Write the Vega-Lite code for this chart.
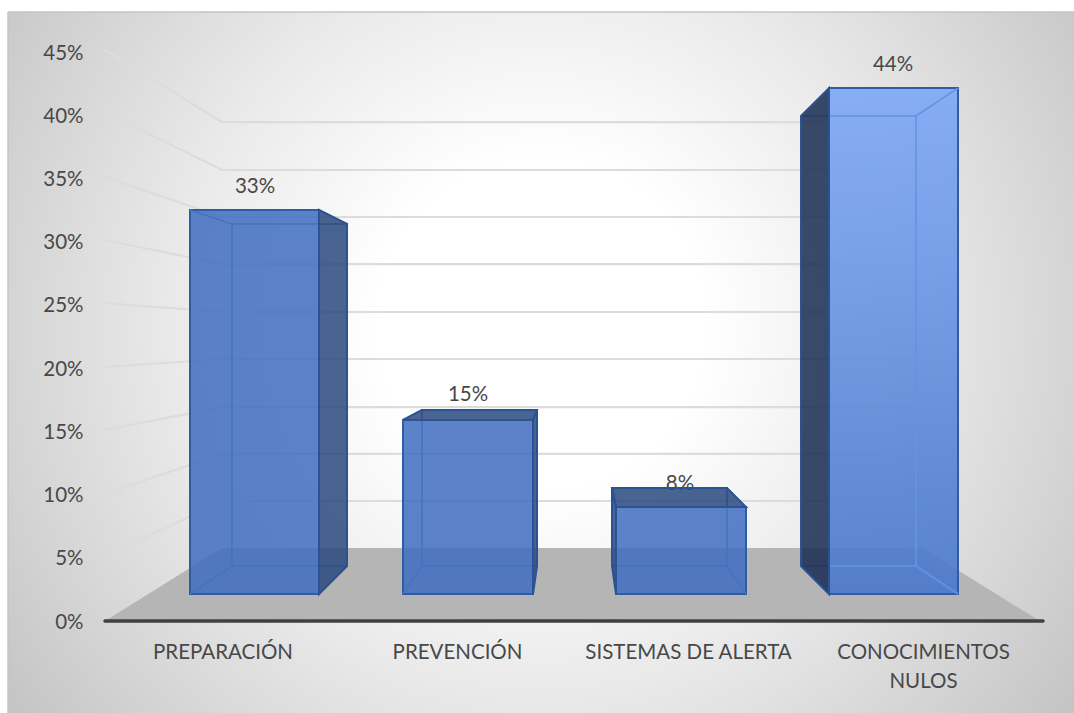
{
"$schema":"https://vega.github.io/schema/vega-lite/v6.json",
"width":1074,"height":713,
"autosize":{"type":"none"},
"padding":0,
"background":"white",
"config":{"view":{"stroke":null},"font":"Lato"},
"encoding":{
 "x":{"field":"x","type":"quantitative","scale":{"domain":[0,1074],"nice":false,"zero":false},
  "axis":{"title":null,"orient":"bottom","offset":-75,"grid":false,"domain":false,"ticks":false,"labelFont":"Lato","labelFontSize":20.5,"labelColor":"#484848","labelPadding":4,"labelLineHeight":29,"labelLimit":400,"labelOverlap":false,"labelFlush":false,"labelBound":false,"values":[222.5,457,688,923],"zindex":1,
  "labelExpr":"datum.value==222.5?'PREPARACIÓN':datum.value==457?'PREVENCIÓN':datum.value==688?'SISTEMAS DE ALERTA':['CONOCIMIENTOS','NULOS']"}},
 "y":{"field":"y","type":"quantitative","scale":{"domain":[-7.276,49.114],"nice":false,"zero":false},
  "axis":{"title":null,"orient":"left","offset":-84,"grid":false,"domain":false,"ticks":false,"labelFont":"Lato","labelFontSize":20.5,"labelColor":"#484848","labelPadding":1,"labelOffset":1,"labelOverlap":false,"labelFlush":false,"labelBound":false,"values":[0,5,10,15,20,25,30,35,40,45],"zindex":1,"labelExpr":"datum.value+'%'"}}
},
"layer":[
 {"data":{"values":[{"x":8,"x2":1074,"y":67.3,"y2":-17}]},
  "mark":{"type":"rect","clip":true,"fill":{"gradient":"radial","x1":0.5,"y1":0.52,"r1":0,"x2":0.5,"y2":0.52,"r2":0.7,"stops":[{"offset":0,"color":"#ffffff"},{"offset":0.22,"color":"#ffffff"},{"offset":0.5,"color":"#e9e9e9"},{"offset":0.72,"color":"#d4d4d4"},{"offset":1,"color":"#b8b8b8"}]}},
  "encoding":{"x2":{"field":"x2"},"y2":{"field":"y2"}}},
 {"data":{"values":[{"x":0,"x2":1074,"y":49.114,"y2":48.165},{"x":0,"x2":8,"y":49.114,"y2":-7.276}]},
  "mark":{"type":"rect","fill":"white"},
  "encoding":{"x2":{"field":"x2"},"y2":{"field":"y2"}}},
 {"data":{"values":[{"e":"top","x":8,"y":48.165},{"e":"top","x":1074,"y":48.165},{"e":"left","x":8,"y":48.165},{"e":"left","x":8,"y":-7.276}]},
  "mark":{"type":"line","stroke":"#c4c4c4","strokeWidth":1.5},
  "encoding":{"detail":{"field":"e"}}},
 {"data":{"values":[
  {"v":45,"x":105,"y":45.16},{"v":45,"x":222,"y":39.46},{"v":45,"x":922,"y":39.46},
  {"v":40,"x":105,"y":40.26},{"v":40,"x":222,"y":35.67},{"v":40,"x":922,"y":35.67},
  {"v":35,"x":105,"y":35.12},{"v":35,"x":222,"y":31.95},{"v":35,"x":922,"y":31.95},
  {"v":30,"x":105,"y":30.13},{"v":30,"x":222,"y":28.23},{"v":30,"x":922,"y":28.23},
  {"v":25,"x":105,"y":25.15},{"v":25,"x":222,"y":24.44},{"v":25,"x":922,"y":24.44},
  {"v":20,"x":105,"y":20.09},{"v":20,"x":222,"y":20.72},{"v":20,"x":922,"y":20.72},
  {"v":15,"x":105,"y":15.11},{"v":15,"x":222,"y":16.92},{"v":15,"x":922,"y":16.92},
  {"v":10,"x":105,"y":10.04},{"v":10,"x":222,"y":13.21},{"v":10,"x":922,"y":13.21},
  {"v":5,"x":105,"y":5.06},{"v":5,"x":222,"y":9.49},{"v":5,"x":922,"y":9.49}
  ]},
  "mark":{"type":"line","stroke":"#dcdcdc","strokeWidth":2.2},
  "encoding":{"detail":{"field":"v"}}},
 {"data":{"values":[{"x":222,"x2":922,"y":5.77},{"x":105,"x2":1040,"y":0}]},
  "mark":{"type":"area","orient":"horizontal","fill":"#b5b5b5"},
  "encoding":{"x2":{"field":"x2"}}},
 {"data":{"values":[{"x":105,"y":0},{"x":1043,"y":0}]},
  "mark":{"type":"line","stroke":"#404040","strokeWidth":3.5,"strokeCap":"round"},
  "encoding":{}},
 {"data":{"values":[{"label":"33%","x":255,"y":34.4},{"label":"15%","x":468,"y":17.95},{"label":"8%","x":680,"y":10.91},{"label":"44%","x":893,"y":44.05}]},
  "mark":{"type":"text","font":"Lato","fontSize":20.5,"color":"#484848","align":"center","baseline":"middle","dy":1},
  "encoding":{"text":{"field":"label"}}},
 {"data":{"values":[{"bar":"1","x":190,"x2":319,"y":32.51,"y2":2.135},{"bar":"2","x":403,"x2":533,"y":15.9,"y2":2.135},{"bar":"3","x":616,"x2":746,"y":9.02,"y2":2.135}]},
  "mark":{"type":"rect","fill":"#3f6dc1","fillOpacity":0.85,"stroke":"#2f5ca6","strokeWidth":2},
  "encoding":{"x2":{"field":"x2"},"y2":{"field":"y2"}}},
 {"data":{"values":[{"bar":"4","x":829,"x2":958,"y":42.15,"y2":2.135}]},
  "mark":{"type":"rect","fill":{"gradient":"linear","x1":0,"y1":0,"x2":0,"y2":1,"stops":[{"offset":0,"color":"#7da8f6"},{"offset":1,"color":"#4a77ca"}]},"fillOpacity":0.9,"stroke":"#2f5ca6","strokeWidth":2},
  "encoding":{"x2":{"field":"x2"},"y2":{"field":"y2"}}},
 {"data":{"values":[{"bar":"1","x":232,"x2":347,"y":31.4,"y2":4.35},{"bar":"2","x":422,"x2":537,"y":16.69,"y2":4.35},{"bar":"3","x":612,"x2":727,"y":10.52,"y2":4.35},{"bar":"4","x":801,"x2":916,"y":39.94,"y2":4.35}]},
  "mark":{"type":"rect","fillOpacity":0,"strokeWidth":1.6},
  "encoding":{"x2":{"field":"x2"},"y2":{"field":"y2"},"stroke":{"field":"bar","type":"nominal","legend":null,"scale":{"domain":["1","2","3","4"],"range":["#4472c4","#4472c4","#4472c4","#6393e8"]}}}},
 {"data":{"values":[
  {"bar":"1","e":"a","x":190,"y":32.51},{"bar":"1","e":"a","x":232,"y":31.4},
  {"bar":"1","e":"b","x":190,"y":2.135},{"bar":"1","e":"b","x":232,"y":4.35},
  {"bar":"2","e":"c","x":403,"y":2.135},{"bar":"2","e":"c","x":422,"y":4.35},
  {"bar":"3","e":"d","x":727,"y":4.35},{"bar":"3","e":"d","x":746,"y":2.135},
  {"bar":"4","e":"f","x":916,"y":39.94},{"bar":"4","e":"f","x":958,"y":42.15},
  {"bar":"4","e":"g","x":916,"y":4.35},{"bar":"4","e":"g","x":958,"y":2.135}
  ]},
  "mark":{"type":"line","strokeWidth":1.6},
  "encoding":{"detail":{"field":"e"},"stroke":{"field":"bar","type":"nominal","legend":null,"scale":{"domain":["1","2","3","4"],"range":["#4472c4","#4472c4","#4472c4","#6393e8"]}}}},
 {"data":{"values":[
  {"bar":"1","x":319,"y":32.51,"y2":2.135},{"bar":"1","x":347,"y":31.4,"y2":4.35},
  {"bar":"2","x":533,"y":15.9,"y2":2.135},{"bar":"2","x":537,"y":16.69,"y2":4.35},
  {"bar":"3","x":612,"y":10.52,"y2":4.35},{"bar":"3","x":616,"y":9.02,"y2":2.135},
  {"bar":"4","x":801,"y":39.94,"y2":4.35},{"bar":"4","x":829,"y":42.15,"y2":2.135}
  ]},
  "mark":{"type":"area","fillOpacity":0.85,"stroke":"#2b5293","strokeWidth":2},
  "encoding":{"y2":{"field":"y2"},"detail":{"field":"bar"},"color":{"field":"bar","type":"nominal","legend":null,"scale":{"domain":["1","2","3","4"],"range":["#2a497e","#2a497e","#2a497e","#182a50"]}}}},
 {"data":{"values":[
  {"bar":"2","x":422,"x2":537,"y":16.69},{"bar":"2","x":403,"x2":533,"y":15.9},
  {"bar":"3","x":612,"x2":727,"y":10.52},{"bar":"3","x":616,"x2":746,"y":9.02}
  ]},
  "mark":{"type":"area","orient":"horizontal","fill":"#2a497e","fillOpacity":0.85,"stroke":"#2b5293","strokeWidth":2},
  "encoding":{"x2":{"field":"x2"},"detail":{"field":"bar"}}}
]
}
